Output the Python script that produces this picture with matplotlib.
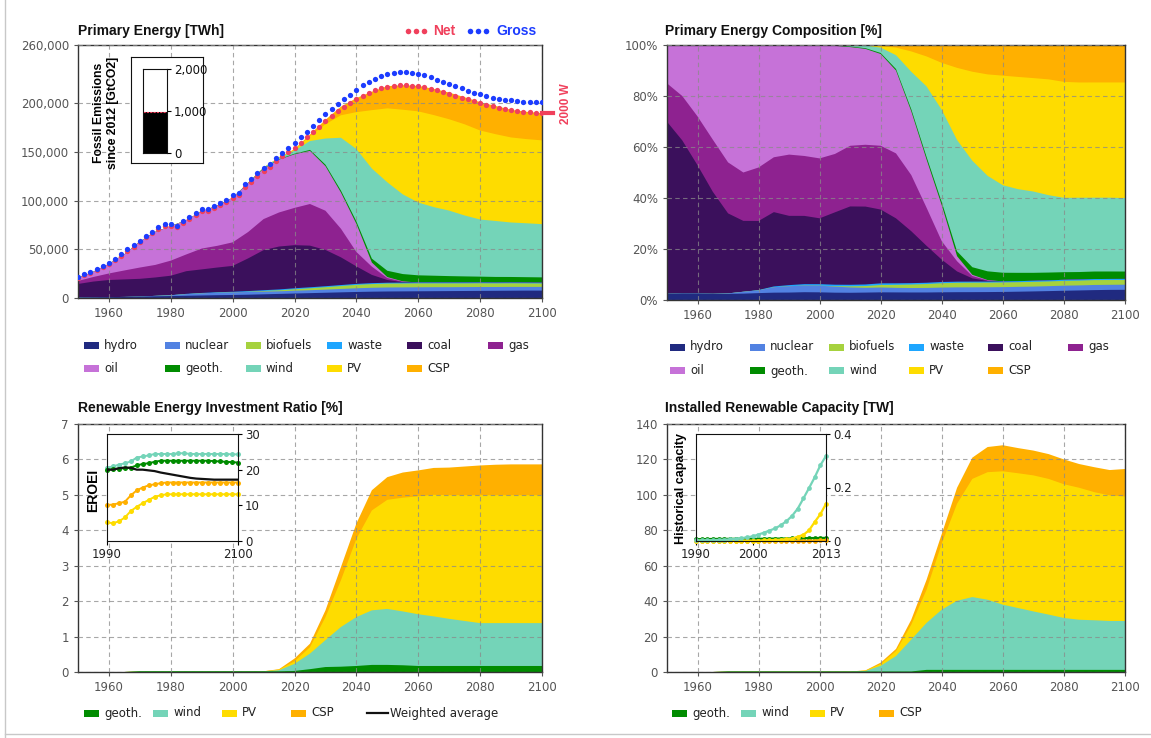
import numpy as np
import matplotlib.pyplot as plt
from matplotlib.patches import Rectangle
from matplotlib.lines import Line2D
from matplotlib.ticker import FuncFormatter

W, H = 1151, 738
plt.rcParams['font.family'] = 'DejaVu Sans'

# ---------------- data ----------------
years = list(range(1950, 2101, 5))

# primary energy by source [TWh]
hydro = [500, 700, 900, 1100, 1400, 1700, 2000, 2300, 2600, 2900, 3100, 3400, 3800, 4200, 4600, 5000,
         5400, 5800, 6200, 6500, 6700, 6800, 6900, 7000, 7100, 7200, 7300, 7400, 7500, 7600, 7600]
nuclear = [0, 0, 0, 0, 100, 500, 800, 1700, 2200, 2500, 2700, 2800, 2800, 2700, 2900, 3000,
           3200, 3500, 3800, 4000, 4100, 4100, 4100, 4100, 4000, 4000, 4000, 3900, 3900, 3800, 3800]
biofuels = [0, 0, 0, 0, 0, 0, 0, 0, 0, 0, 0, 200, 600, 1000, 1500, 2000,
            2500, 3000, 3500, 3800, 4000, 4000, 4000, 3900, 3900, 3800, 3800, 3700, 3700, 3600, 3500]
waste = [0, 0, 0, 0, 0, 0, 100, 250, 400, 500, 600, 700, 800, 900, 1000, 1000,
         1000, 1000, 1000, 950, 900, 900, 900, 900, 900, 900, 850, 850, 800, 800, 800]
coal = [13900, 16200, 17600, 18000, 18200, 18900, 20000, 23300, 24200, 25400, 26600, 33600, 41200, 44100, 44300, 42800,
        37300, 28500, 18000, 8500, 2800, 500, 0, 0, 0, 0, 0, 0, 0, 0, 0]
gas = [3100, 4700, 6700, 9200, 11600, 12900, 15500, 17200, 21400, 22300, 24200, 27100, 31900, 35000, 38300, 42800,
       40300, 29400, 14800, 8500, 2000, 500, 0, 0, 0, 0, 0, 0, 0, 0, 0]
oil = [3100, 5400, 9800, 16700, 26700, 34000, 35500, 35200, 38300, 41300, 45800, 50200, 51900, 54300, 55100, 54600,
       45800, 37200, 28900, 4200, 1000, 300, 0, 0, 0, 0, 0, 0, 0, 0, 0]
geoth = [0, 0, 0, 0, 0, 0, 0, 0, 0, 0, 0, 200, 300, 400, 600, 1000,
         1500, 2000, 2500, 4000, 6500, 7500, 7400, 7000, 6600, 6300, 6000, 5800, 5700, 5600, 5500]
wind = [0, 0, 0, 0, 0, 0, 0, 0, 0, 0, 0, 200, 800, 1500, 3200, 9100,
        26900, 54300, 74400, 92600, 90900, 81900, 74800, 70500, 67300, 62600, 58700, 57500, 56000, 55400, 54700]
pv = [0, 0, 0, 0, 0, 0, 0, 0, 0, 0, 0, 0, 0, 300, 800, 5000,
      14600, 23100, 37900, 60000, 76000, 87000, 93700, 94600, 93900, 93700, 91500, 89200, 87400, 86500, 86100]
csp = [0, 0, 0, 0, 0, 0, 0, 0, 0, 0, 0, 0, 0, 0, 800, 1700,
       4600, 8800, 14400, 19000, 22800, 25200, 26200, 26900, 27400, 27800, 29100, 29000, 28400, 28100, 27900]

# net / gross primary energy [TWh], every 2 years
dot_years = list(range(1950, 2101, 2))
gross = [22000, 24500, 27000, 29500, 33000, 36000, 40000, 45000, 50000, 54000, 59000, 64000, 68000, 72500,
         76000, 76000, 74500, 79000, 83000, 87500, 91500, 91500, 94500, 98000, 101000, 105500, 108000, 117000,
         122500, 128000, 134000, 138000, 144000, 149000, 154000, 159000, 165000, 171000, 177000, 183000, 189000,
         194000, 199000, 204000, 209000, 214000, 218500, 222000, 225500, 228000, 230000, 231500, 232000, 232000,
         231500, 230500, 229000, 227000, 224500, 222000, 220000, 217500, 215500, 213000, 211000, 209500, 207500,
         206000, 204500, 203500, 203000, 202000, 201500, 201000, 201000, 201000]
net = [21000, 23500, 26000, 28500, 32000, 35000, 39000, 43500, 48500, 52500, 57500, 62500, 66500, 71000,
       74000, 74000, 72500, 77000, 81000, 85500, 89000, 89500, 92500, 95500, 98500, 103000, 105500, 114000,
       119500, 125000, 131000, 135000, 140500, 145500, 150000, 154500, 159500, 165000, 170500, 176000, 182000,
       187000, 192000, 196500, 200500, 204500, 208000, 211000, 213500, 215500, 217000, 218000, 218500, 218500,
       218000, 217500, 216500, 215000, 213500, 211500, 210000, 208000, 206000, 204000, 202000, 200500, 198500,
       197000, 195500, 194000, 193000, 192000, 191500, 191000, 190500, 190500]
target_2000w = 190000
emitted_since_2012 = 970  # GtCO2

# renewable energy investment ratio [%]
ir_geoth = [0, 0, 0, 0, 0.02, 0.02, 0.02, 0.02, 0.02, 0.02, 0.02, 0.02, 0.02, 0.02, 0.03, 0.08,
            0.14, 0.15, 0.17, 0.20, 0.20, 0.19, 0.17, 0.17, 0.17, 0.17, 0.17, 0.17, 0.17, 0.17, 0.17]
ir_wind = [0, 0, 0, 0, 0, 0, 0, 0, 0, 0, 0, 0, 0, 0.03, 0.20, 0.44,
           0.76, 1.12, 1.38, 1.54, 1.58, 1.52, 1.46, 1.40, 1.33, 1.27, 1.21, 1.21, 1.21, 1.21, 1.21]
ir_pv = [0, 0, 0, 0, 0, 0, 0, 0, 0, 0, 0, 0, 0, 0.02, 0.07, 0.18,
         0.65, 1.32, 2.21, 2.82, 3.08, 3.21, 3.33, 3.43, 3.49, 3.55, 3.61, 3.61, 3.61, 3.61, 3.61]
ir_csp = [0, 0, 0, 0, 0, 0, 0, 0, 0, 0, 0, 0, 0, 0.01, 0.08, 0.10,
          0.19, 0.37, 0.43, 0.57, 0.64, 0.71, 0.73, 0.76, 0.78, 0.81, 0.84, 0.86, 0.87, 0.87, 0.87]

# EROEI inset
eroei_years = list(range(1990, 2101, 5))
eroei_wind = [20.6, 20.9, 21.4, 21.8, 22.3, 23.4, 23.7, 24.0, 24.4, 24.4, 24.4, 24.4,
              24.6, 24.6, 24.4, 24.4, 24.4, 24.4, 24.4, 24.4, 24.4, 24.3, 24.3]
eroei_geoth = [20.0, 20.1, 20.3, 20.4, 20.6, 21.2, 21.6, 21.8, 22.2, 22.5, 22.5, 22.5,
               22.5, 22.5, 22.5, 22.5, 22.5, 22.5, 22.4, 22.3, 22.2, 22.1, 22.0]
eroei_csp = [10.1, 10.2, 10.6, 11.0, 12.8, 14.2, 15.0, 15.6, 15.9, 16.2, 16.4, 16.4,
             16.4, 16.4, 16.4, 16.4, 16.4, 16.4, 16.4, 16.4, 16.4, 16.4, 16.4]
eroei_pv = [5.2, 5.0, 5.5, 6.6, 8.4, 9.6, 10.6, 11.5, 12.4, 12.8, 13.1, 13.1,
            13.1, 13.1, 13.1, 13.1, 13.1, 13.1, 13.1, 13.1, 13.1, 13.1, 13.1]
eroei_avg = [20.0, 20.0, 20.4, 20.6, 20.5, 20.0, 20.0, 19.8, 19.6, 19.2, 18.9, 18.6,
             18.3, 18.0, 17.7, 17.5, 17.4, 17.3, 17.2, 17.2, 17.2, 17.2, 17.2]

# installed renewable capacity [TW]
cap_geoth = [0, 0, 0, 0, 0.3, 0.3, 0.3, 0.3, 0.3, 0.3, 0.3, 0.3, 0.3, 0.3, 0.3, 0.3,
             0.3, 1.2, 1.2, 1.2, 1.2, 1.2, 1.2, 1.2, 1.2, 1.2, 1.2, 1.2, 1.2, 1.2, 1.2]
cap_wind = [0, 0, 0, 0, 0, 0, 0, 0, 0, 0, 0, 0, 0, 0.3, 3.2, 8.7,
            18.0, 26.5, 34.0, 39.0, 41.1, 39.6, 36.8, 34.9, 33.0, 31.2, 29.3, 28.3, 28.0, 27.6, 27.6]
cap_pv = [0, 0, 0, 0, 0, 0, 0, 0, 0, 0, 0, 0, 0, 0.2, 1.0, 2.8,
          8.4, 18.7, 37.4, 54.8, 66.7, 72.0, 75.3, 76.1, 76.8, 76.6, 75.5, 74.5, 72.3, 70.9, 70.3]
cap_csp = [0, 0, 0, 0, 0, 0, 0, 0, 0, 0, 0, 0, 0, 0.1, 0.8, 1.2,
           2.8, 5.6, 5.4, 9.0, 12.0, 14.2, 14.7, 14.2, 14.0, 14.0, 14.0, 13.4, 14.1, 14.3, 15.5]

# historical capacity inset [TW]
hist_years = list(range(1990, 2014))
hist_wind = [0.002, 0.002, 0.003, 0.003, 0.004, 0.005, 0.006, 0.008, 0.010, 0.014, 0.017, 0.024,
             0.031, 0.039, 0.047, 0.059, 0.074, 0.094, 0.121, 0.159, 0.198, 0.238, 0.283, 0.318]
hist_pv = [0.001, 0.001, 0.001, 0.001, 0.001, 0.001, 0.001, 0.001, 0.001, 0.001, 0.001, 0.001,
           0.002, 0.003, 0.004, 0.005, 0.007, 0.009, 0.016, 0.023, 0.040, 0.071, 0.100, 0.139]
hist_geoth = [0.0068, 0.0070, 0.0072, 0.0075, 0.0077, 0.0078, 0.0080, 0.0082, 0.0084, 0.0086, 0.0080, 0.0081,
              0.0083, 0.0085, 0.0088, 0.0090, 0.0093, 0.0096, 0.0100, 0.0105, 0.0109, 0.0110, 0.0113, 0.0116]
hist_csp = [0.0003, 0.0003, 0.0003, 0.0003, 0.0003, 0.0003, 0.0003, 0.0003, 0.0003, 0.0003, 0.0003, 0.0003,
            0.0003, 0.0003, 0.0003, 0.0003, 0.0004, 0.0005, 0.0005, 0.0006, 0.0010, 0.0015, 0.0025, 0.0034]

src_labels = ['hydro', 'nuclear', 'biofuels', 'waste', 'coal', 'gas', 'oil', 'geoth.', 'wind', 'PV', 'CSP']
src_colors = ['#202a80', '#5282e2', '#a6d23e', '#1ea6ff', '#3b105c', '#8e2290', '#c672d8',
              '#008c00', '#74d4b8', '#fedc00', '#ffb000']
NET_C, GROSS_C = '#f0405c', '#1c3cff'

# ---------------- helpers ----------------
fig = plt.figure(figsize=(W / 100, H / 100), dpi=100)


def box(l, t, r, b):
    return [l / W, 1 - b / H, (r - l) / W, (b - t) / H]


def ftext(x, y, s, **kw):
    fig.text(x / W, 1 - y / H, s, **kw)


def fpatch(x, y, w, h, c):
    fig.add_artist(Rectangle((x / W, 1 - (y + h) / H), w / W, h / H,
                             transform=fig.transFigure, facecolor=c, edgecolor='none'))


def title(x, y, s):
    ftext(x, y, s, family='Liberation Sans', fontweight='bold', fontsize=10,
          ha='left', va='center', color='#111111')


def stack(ax, x, layers, cols):
    cum = np.cumsum(np.array(layers, dtype=float), axis=0)
    for i in reversed(range(len(layers))):
        ax.fill_between(x, 0, cum[i], facecolor=cols[i], edgecolor='none', lw=0, zorder=1)


def style(ax):
    ax.set_xlim(1950, 2100)
    ax.set_xticks(range(1960, 2101, 20))
    ax.grid(True, color='#8a8a8a', ls=(0, (4, 3)), lw=0.8, alpha=0.75)
    ax.set_axisbelow(False)
    for sp in ax.spines.values():
        sp.set_color('#333333')
        sp.set_linewidth(1)
    ax.tick_params(labelsize=8.5, labelcolor='#555555', color='#555555', length=3)


def legend_row(items, xs, y, cols):
    for lab, x, c in zip(items, xs, cols):
        fpatch(x, y - 3.5, 15, 7, c)
        ftext(x + 20, y, lab, fontsize=8.5, ha='left', va='center', color='#222222')


# ---------------- top-left: primary energy ----------------
layers = [hydro, nuclear, biofuels, waste, coal, gas, oil, geoth, wind, pv, csp]
ax1 = fig.add_axes(box(78, 45, 542, 298))
stack(ax1, years, layers, src_colors)
ax1.plot(dot_years, net, ls='none', marker='o', ms=3.8, color=NET_C, mec='none', zorder=4)
ax1.plot(dot_years, gross, ls='none', marker='o', ms=3.8, color=GROSS_C, mec='none', zorder=4)
ax1.set_ylim(0, 260000)
ax1.set_yticks([0, 50000, 100000, 150000, 200000, 260000])
ax1.yaxis.set_major_formatter(FuncFormatter(lambda v, p: f'{v:,.0f}'))
style(ax1)
ax1.plot([2100, 2103.5], [target_2000w, target_2000w], color=NET_C, lw=3, clip_on=False, zorder=5)
ftext(566, 104, '2000 W', rotation=90, color=NET_C, fontweight='bold', fontsize=8.5,
      ha='center', va='center', family='Liberation Sans')
title(78, 31, 'Primary Energy [TWh]')

# net / gross key
for k in range(3):
    fig.add_artist(Line2D([(408 + 8 * k) / W], [1 - 31 / H], marker='o', ms=4, color=NET_C,
                          mec='none', transform=fig.transFigure))
    fig.add_artist(Line2D([(470 + 8 * k) / W], [1 - 31 / H], marker='o', ms=4, color=GROSS_C,
                          mec='none', transform=fig.transFigure))
ftext(433, 31, 'Net', color=NET_C, fontweight='bold', fontsize=10, va='center', family='Liberation Sans')
ftext(496, 31, 'Gross', color=GROSS_C, fontweight='bold', fontsize=10, va='center', family='Liberation Sans')

# fossil emission inset
frame = fig.add_axes(box(131, 57, 203, 163))
frame.set_xticks([])
frame.set_yticks([])
for sp in frame.spines.values():
    sp.set_color('#111111')
bar = fig.add_axes(box(143, 69, 167, 153))
bar.bar([0], [emitted_since_2012], width=1, color='black')
bar.axhline(emitted_since_2012 + 10, color=NET_C, lw=0.8, ls=(0, (2, 1)))
bar.set_xlim(-0.5, 0.5)
bar.set_ylim(0, 2000)
bar.set_xticks([])
bar.yaxis.tick_right()
bar.set_yticks([0, 1000, 2000])
bar.set_yticklabels(['0', '1,000', '2,000'])
bar.tick_params(labelsize=8.5, labelcolor='#111111', length=3, pad=2)
for sp in bar.spines.values():
    sp.set_color('#111111')
ftext(106, 113, 'Fossil Emissions\nsince 2012 [GtCO2]', rotation=90, ha='center', va='center',
      fontweight='bold', fontsize=8.8, family='Liberation Sans', linespacing=1.25)

legend_row(src_labels[:6], [84, 165, 246, 327, 407, 488], 345, src_colors[:6])
legend_row(src_labels[6:], [84, 165, 246, 327, 407], 368, src_colors[6:])

# ---------------- top-right: composition ----------------
arr = np.array(layers, dtype=float)
share = arr / arr.sum(axis=0) * 100
ax2 = fig.add_axes(box(667, 45, 1125, 300))
stack(ax2, years, list(share), src_colors)
ax2.set_ylim(0, 100)
ax2.set_yticks(range(0, 101, 20))
ax2.yaxis.set_major_formatter(FuncFormatter(lambda v, p: f'{v:.0f}%'))
style(ax2)
title(665, 31, 'Primary Energy Composition [%]')
legend_row(src_labels[:6], [670, 750, 829, 909, 988, 1068], 347, src_colors[:6])
legend_row(src_labels[6:], [670, 750, 829, 909, 988], 371, src_colors[6:])

# ---------------- bottom-left: investment ratio ----------------
ren_cols = src_colors[7:]
ax3 = fig.add_axes(box(78, 424, 542, 672))
stack(ax3, years, [ir_geoth, ir_wind, ir_pv, ir_csp], ren_cols)
ax3.set_ylim(0, 7)
ax3.set_yticks(range(0, 8))
style(ax3)
title(78, 408, 'Renewable Energy Investment Ratio [%]')

ins1 = fig.add_axes(box(107, 434, 238, 541))
for vals, c in [(eroei_wind, ren_cols[1]), (eroei_geoth, ren_cols[0]),
                (eroei_csp, ren_cols[3]), (eroei_pv, ren_cols[2])]:
    ins1.plot(eroei_years, vals, color=c, lw=1.4, marker='o', ms=3.6, mec='none', clip_on=False)
ins1.plot(eroei_years, eroei_avg, color='#111111', lw=1.6)
ins1.set_xlim(1990, 2100)
ins1.set_ylim(0, 30)
ins1.yaxis.tick_right()
ins1.set_yticks([0, 10, 20, 30])
ins1.set_xticks([1990, 2100])
ins1.tick_params(labelsize=8.5, labelcolor='#222222', length=3, pad=2)
for sp in ins1.spines.values():
    sp.set_color('#111111')
ftext(93, 490, 'EROEI', rotation=90, ha='center', va='center', fontweight='bold',
      fontsize=10, family='Liberation Sans')

legend_row(['geoth.', 'wind', 'PV', 'CSP'], [84, 153, 222, 291], 713, ren_cols)
fig.add_artist(Line2D([367 / W, 388 / W], [1 - 713 / H, 1 - 713 / H], color='#111111', lw=1.6,
                      transform=fig.transFigure))
ftext(390, 713, 'Weighted average', fontsize=8.5, ha='left', va='center', color='#222222')

# ---------------- bottom-right: installed capacity ----------------
ax4 = fig.add_axes(box(667, 424, 1125, 672))
stack(ax4, years, [cap_geoth, cap_wind, cap_pv, cap_csp], ren_cols)
ax4.set_ylim(0, 140)
ax4.set_yticks(range(0, 141, 20))
style(ax4)
title(665, 408, 'Installed Renewable Capacity [TW]')

ins2 = fig.add_axes(box(696, 434, 826, 541))
for vals, c in [(hist_geoth, ren_cols[0]), (hist_csp, ren_cols[3]),
                (hist_pv, ren_cols[2]), (hist_wind, ren_cols[1])]:
    ins2.plot(hist_years, vals, color=c, lw=1.6, marker='o', ms=3.4, mec='none', clip_on=False)
ins2.set_xlim(1990, 2013)
ins2.set_ylim(0, 0.4)
ins2.yaxis.tick_right()
ins2.set_yticks([0, 0.2, 0.4])
ins2.set_yticklabels(['0', '0.2', '0.4'])
ins2.set_xticks([1990, 2000, 2013])
ins2.tick_params(labelsize=8.5, labelcolor='#222222', length=3, pad=2)
for sp in ins2.spines.values():
    sp.set_color('#111111')
ftext(681, 488, 'Historical capacity', rotation=90, ha='center', va='center', fontweight='bold',
      fontsize=9, family='Liberation Sans')

legend_row(['geoth.', 'wind', 'PV', 'CSP'], [672, 741, 810, 879], 713, ren_cols)

# outer frame lines
fig.add_artist(Line2D([5 / W, 5 / W], [0, 1], color='#c8c8c8', lw=1, transform=fig.transFigure))
fig.add_artist(Line2D([5 / W, 1], [1 - 734 / H, 1 - 734 / H], color='#c8c8c8', lw=1, transform=fig.transFigure))

fig.savefig('out.png', dpi=100, facecolor='white')
